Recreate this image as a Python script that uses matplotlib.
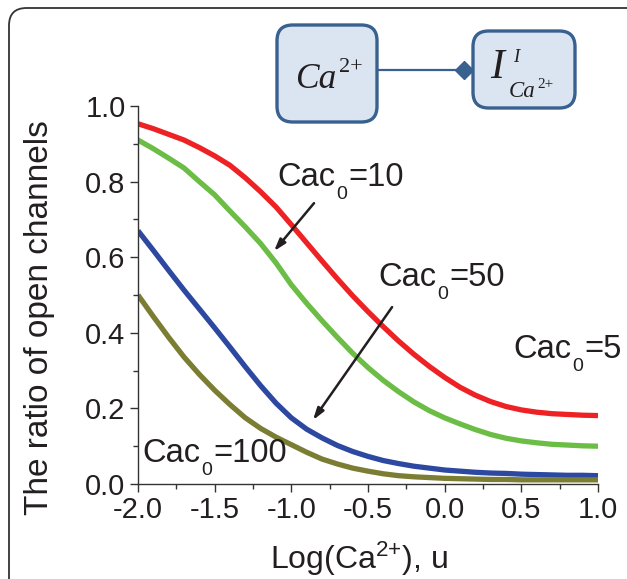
import numpy as np
import matplotlib
matplotlib.use('Agg')
import matplotlib.pyplot as plt
from matplotlib.patches import FancyBboxPatch
from matplotlib.ticker import MultipleLocator

plt.rcParams['font.family'] = ['Liberation Sans', 'DejaVu Sans']
plt.rcParams['mathtext.fontset'] = 'custom'
plt.rcParams['mathtext.rm'] = 'Liberation Sans'
plt.rcParams['mathtext.it'] = 'Liberation Sans:italic'

# Log(Ca2+) grid
log_ca = [-2.0, -1.9, -1.8, -1.7, -1.6, -1.5, -1.4, -1.3, -1.2, -1.1, -1.0,
          -0.9, -0.8, -0.7, -0.6, -0.5, -0.4, -0.3, -0.2, -0.1, 0.0,
          0.1, 0.2, 0.3, 0.4, 0.5, 0.6, 0.7, 0.8, 0.9, 1.0]

# ratio of open channels, one list per Cac0
cac5 = [0.953, 0.94, 0.925, 0.91, 0.89, 0.868, 0.843, 0.81, 0.773, 0.733, 0.686,
        0.638, 0.59, 0.543, 0.498, 0.456, 0.416, 0.378, 0.343, 0.311, 0.282,
        0.256, 0.235, 0.218, 0.205, 0.196, 0.19, 0.186, 0.184, 0.182, 0.181]
cac10 = [0.91, 0.887, 0.862, 0.836, 0.8, 0.765, 0.722, 0.68, 0.636, 0.585, 0.527,
         0.478, 0.432, 0.388, 0.346, 0.308, 0.274, 0.244, 0.217, 0.194, 0.175,
         0.159, 0.144, 0.131, 0.121, 0.114, 0.109, 0.105, 0.103, 0.101, 0.1]
cac50 = [0.67, 0.618, 0.565, 0.513, 0.463, 0.413, 0.362, 0.31, 0.26, 0.214, 0.175,
         0.145, 0.122, 0.102, 0.086, 0.073, 0.062, 0.054, 0.047, 0.042, 0.037,
         0.034, 0.031, 0.029, 0.028, 0.026, 0.025, 0.024, 0.023, 0.023, 0.022]
cac100 = [0.5, 0.443, 0.388, 0.336, 0.29, 0.248, 0.21, 0.175, 0.147, 0.124, 0.104,
          0.084, 0.066, 0.053, 0.042, 0.034, 0.027, 0.022, 0.019, 0.017, 0.015,
          0.014, 0.013, 0.012, 0.012, 0.011, 0.011, 0.011, 0.011, 0.011, 0.011]

W, H = 627, 579
fig = plt.figure(figsize=(W / 100, H / 100), dpi=100)
fig.patch.set_facecolor('white')
renderer = fig.canvas.get_renderer()


def px(x, y):
    # pixel (from top-left) -> figure fraction
    return x / W, 1 - y / H


# outer rounded frame (only top-left part visible)
frame = FancyBboxPatch((9 / W, -0.2), 1.2, (H - 8) / H + 0.2,
                       boxstyle='round,pad=0,rounding_size=0.028',
                       transform=fig.transFigure, fill=False,
                       edgecolor='#333333', linewidth=1.3, mutation_aspect=W / H)
fig.patches.append(frame)

ax = fig.add_axes([138 / W, (H - 484) / H, 460 / W, 378 / H])
ax.set_facecolor('none')

ax.plot(log_ca, cac5, color='#ee2224', lw=3.8, solid_capstyle='butt')
ax.plot(log_ca, cac10, color='#6cbd45', lw=3.8, solid_capstyle='butt')
ax.plot(log_ca, cac50, color='#2c48a0', lw=3.8, solid_capstyle='butt')
ax.plot(log_ca, cac100, color='#7b7d33', lw=3.8, solid_capstyle='butt')

ax.set_xlim(-2.0, 1.0)
ax.set_ylim(0.0, 1.0)
ax.xaxis.set_major_locator(MultipleLocator(0.5))
ax.xaxis.set_minor_locator(MultipleLocator(0.25))
ax.yaxis.set_major_locator(MultipleLocator(0.2))
ax.yaxis.set_minor_locator(MultipleLocator(0.1))
ax.xaxis.set_major_formatter(plt.FuncFormatter(lambda v, p: '%.1f' % v))
ax.yaxis.set_major_formatter(plt.FuncFormatter(lambda v, p: '%.1f' % v))
ax.spines['top'].set_visible(False)
ax.spines['right'].set_visible(False)
for s in ('left', 'bottom'):
    ax.spines[s].set_color('#333333')
    ax.spines[s].set_linewidth(1.0)
ax.tick_params(which='major', direction='out', length=6, width=1.0,
               colors='#333333', labelsize=21, labelcolor='#231f20', pad=3)
ax.tick_params(which='minor', direction='out', length=3.5, width=1.0, colors='#333333')

# axis titles
ax.set_ylabel('The ratio of open channels', fontsize=24, color='#231f20')
ax.yaxis.set_label_coords((55 - 138) / 460, (484 - 318) / 378)
tx, ty = px(359, 569)
fig.text(tx, ty, 'Log(Ca$^{\\mathrm{2{+}}}$), u', fontsize=23, color='#231f20',
         ha='center', va='baseline')


# curve labels "Cac" + subscript 0 + "=value"
def cac_label(x, y, value):
    t1 = ax.text(x, y, 'Cac', fontsize=23.5, color='#231f20', va='baseline', ha='left')
    w1 = t1.get_window_extent(renderer).width
    t2 = ax.annotate('0', xy=(x, y), xytext=(w1 + 1, -13), textcoords='offset pixels',
                     fontsize=14, color='#231f20', va='baseline', ha='left')
    w2 = t2.get_window_extent(renderer).width
    ax.annotate('=' + value, xy=(x, y), xytext=(w1 + w2 + 2, 0), textcoords='offset pixels',
                fontsize=23.5, color='#231f20', va='baseline', ha='left',
                annotation_clip=False)


cac_label(-1.093, 0.788, '10')
cac_label(-0.435, 0.524, '50')
cac_label(0.446, 0.333, '5')
cac_label(-1.971, 0.058, '100')

arr = dict(arrowstyle='-|>,head_length=0.7,head_width=0.22', color='#231f20', lw=1.8,
           shrinkA=0, shrinkB=0)
ax.annotate('', xy=(-1.113, 0.616), xytext=(-0.852, 0.743), arrowprops=arr)
ax.annotate('', xy=(-0.859, 0.169), xytext=(-0.343, 0.468), arrowprops=arr)

# diagram at top
box_face = '#dbe5f1'
box_edge = '#386190'
for (x0, y0, x1, y1) in [(277, 25, 377, 122), (473, 31, 575, 108)]:
    bx, by = px(x0, y1)
    b = FancyBboxPatch((bx, by), (x1 - x0) / W, (y1 - y0) / H,
                       boxstyle='round,pad=0,rounding_size=0.025',
                       transform=fig.transFigure, facecolor=box_face,
                       edgecolor=box_edge, linewidth=2.4, mutation_aspect=W / H)
    fig.patches.append(b)

lx0, ly = px(377, 70)
lx1, _ = px(464, 70)
fig.add_artist(plt.Line2D([lx0, lx1], [ly, ly], color=box_edge, lw=1.6,
                          transform=fig.transFigure))
fig.add_artist(plt.Line2D([lx1], [ly], marker='D', markersize=9.5, color=box_edge,
                          transform=fig.transFigure))

serif = dict(family='Liberation Serif', style='italic', color='#231f20',
             ha='left', va='baseline')
fig.text(*px(295, 88), 'Ca', fontsize=25.5, **serif)
fig.text(*px(339, 72), '2+', fontsize=16, **dict(serif, style='normal'))
fig.text(*px(490, 78), 'I', fontsize=30, **serif)
fig.text(*px(513, 62), 'I', fontsize=13.5, **serif)
fig.text(*px(509, 97), 'Ca', fontsize=16.5, **serif)
fig.text(*px(537, 88), '2+', fontsize=11, **dict(serif, style='normal'))

fig.savefig('out.png', dpi=100)
